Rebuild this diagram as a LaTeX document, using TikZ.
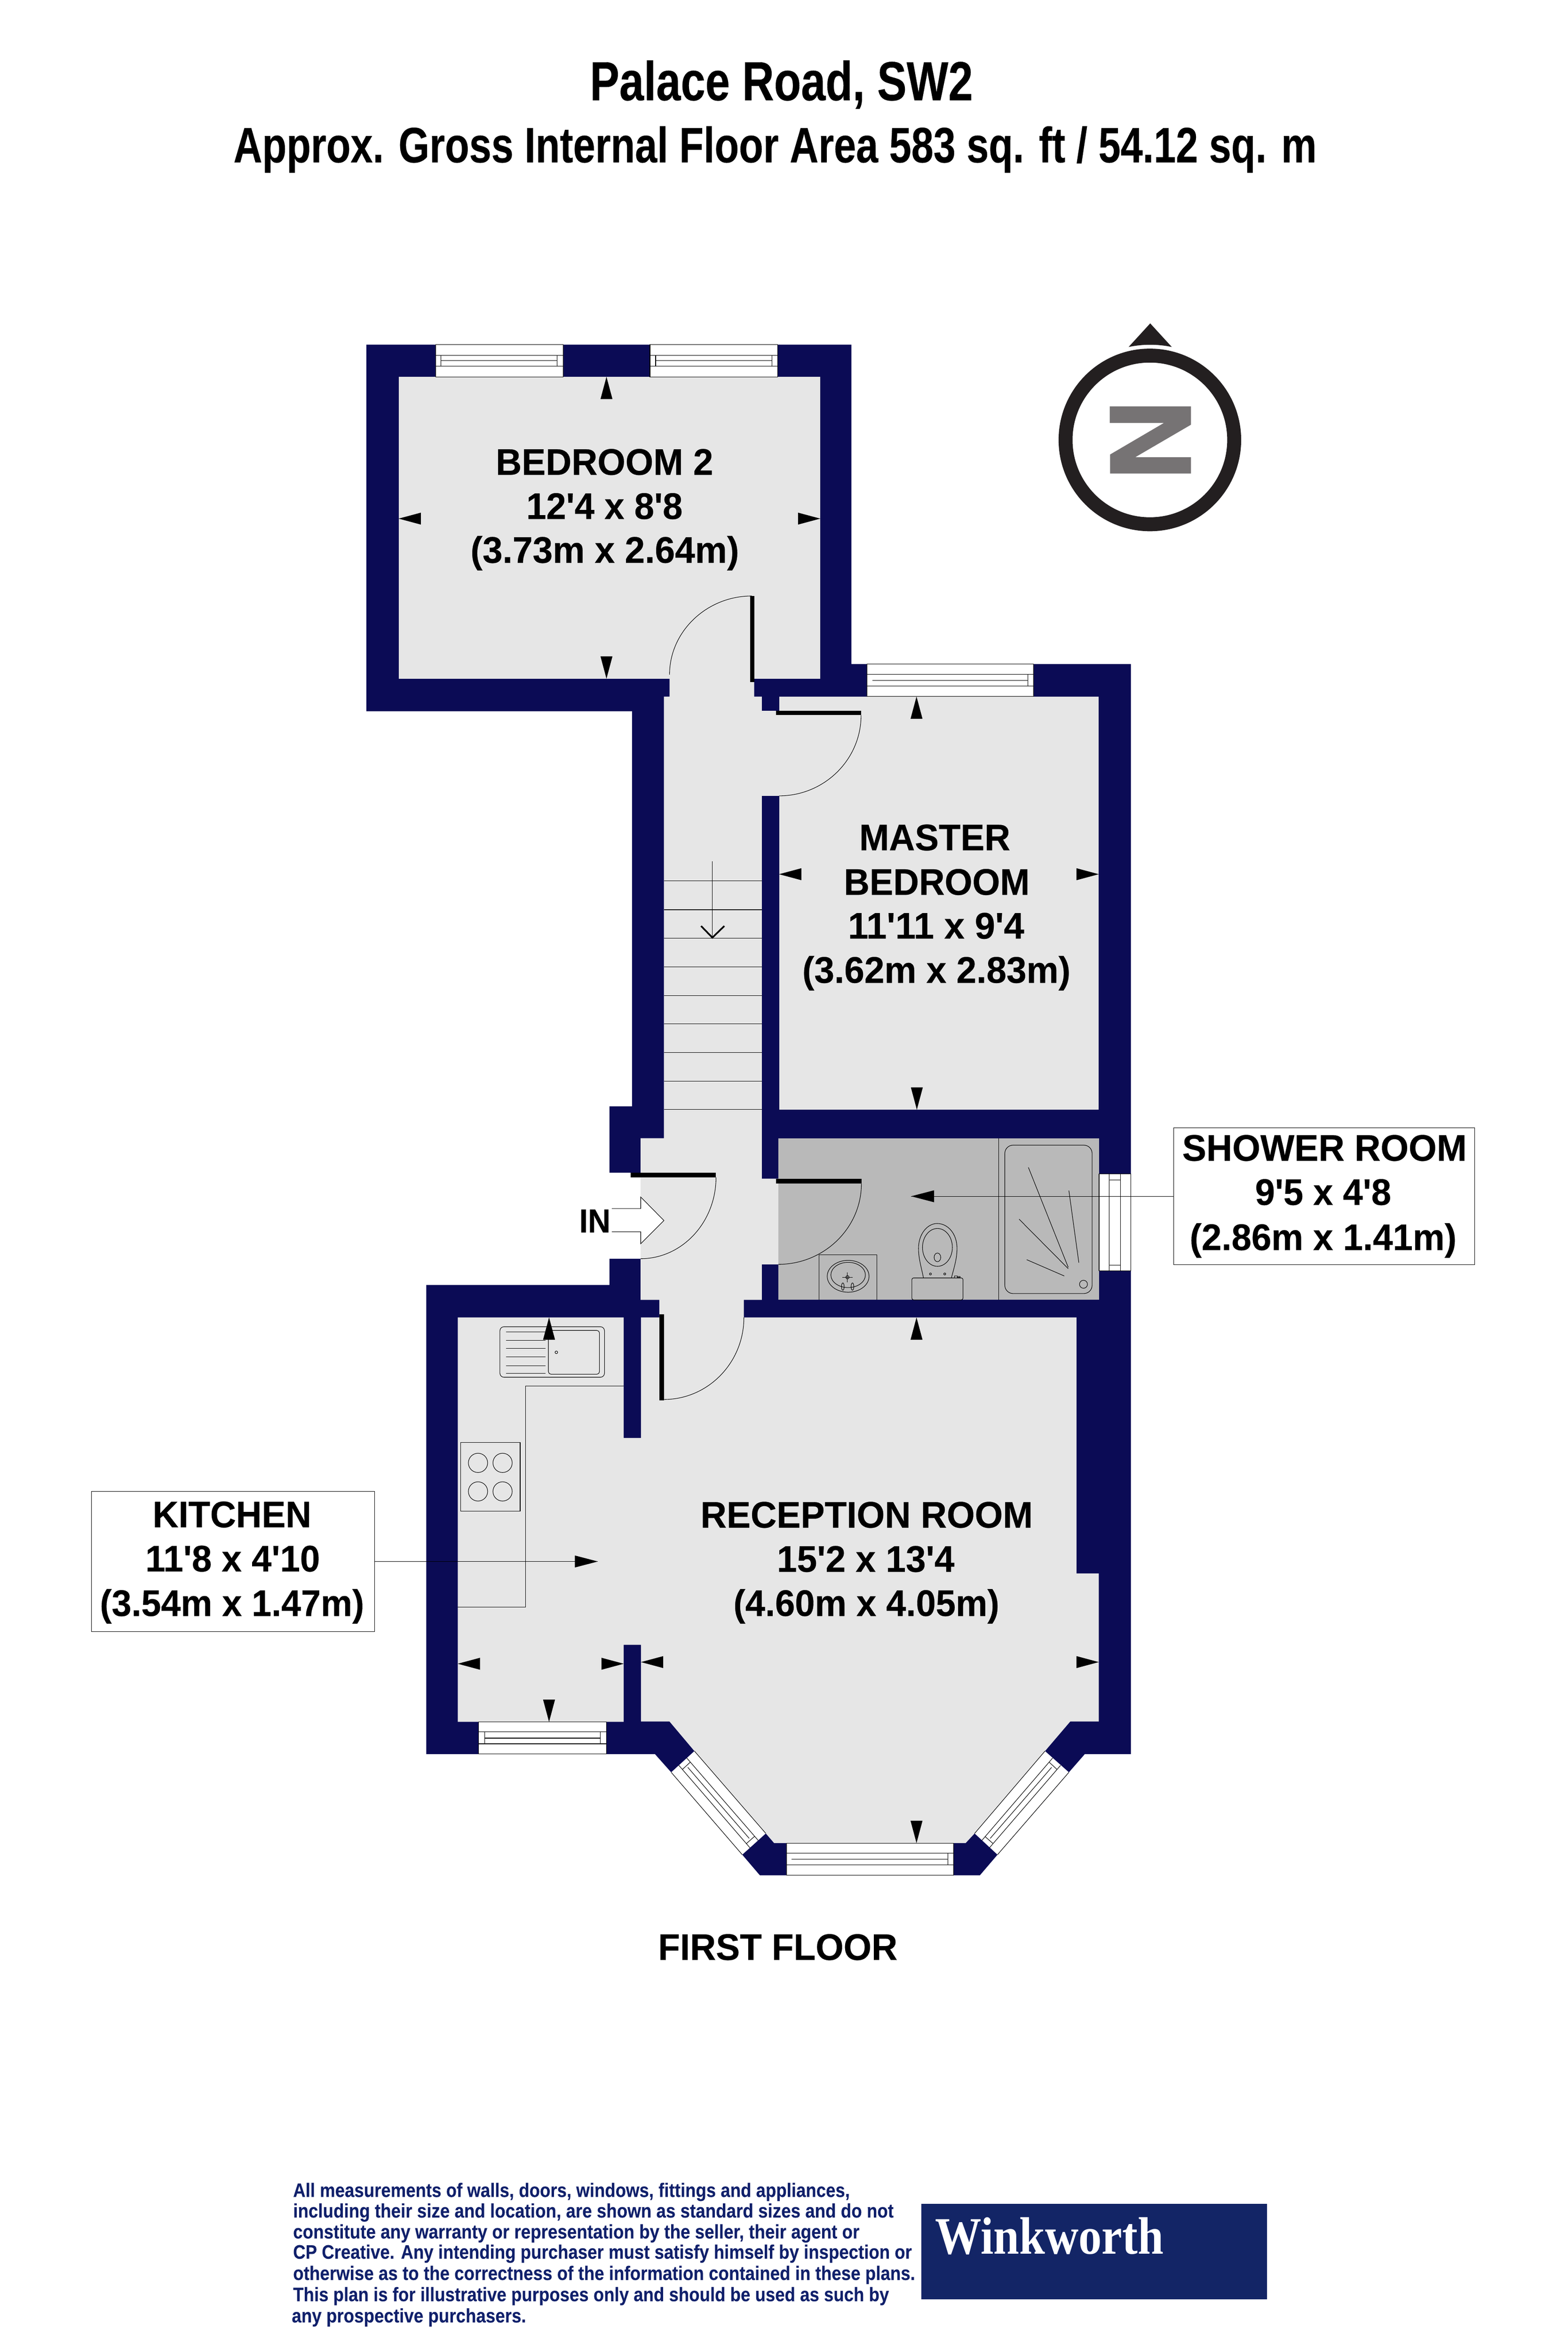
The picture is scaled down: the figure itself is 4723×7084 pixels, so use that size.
\documentclass[tikz,border=0pt]{standalone}
\usepackage{graphicx}
\usepackage{fontspec}
\newfontfamily\ars{Liberation Sans}[BoldFeatures={FakeBold=0.3}]
\newfontfamily\ard{Liberation Sans}[BoldFeatures={FakeBold=0.01}]
\newfontfamily\tms{Liberation Serif}
\definecolor{wallc}{HTML}{0B0B55}
\definecolor{floorc}{HTML}{E6E6E6}
\definecolor{showerc}{HTML}{B9B9B9}
\definecolor{logoc}{HTML}{132566}
\definecolor{discc}{HTML}{10206B}
\definecolor{compc}{HTML}{231F20}
\definecolor{zedc}{HTML}{767374}
\newlength\pxu \setlength\pxu{0.2pt}
\tikzset{
  x=0.2pt,y=-0.2pt,
  thinl/.style={draw=black,line width=0.3pt},
  winbox/.style={fill=white,draw=black,line width=0.3pt},
  doorleaf/.style={fill=black},
  doorarc/.style={draw=black,line width=0.3pt},
  txtbase/.style={inner sep=0pt,outer sep=0pt,anchor=base},
  disc/.style={inner sep=0pt,outer sep=0pt,anchor=base west,text=discc},
  labelbox/.style={draw=black,line width=0.3pt,fill=white,inner sep=0pt,outer sep=0pt},
}
% name, x, baseline, font size pt, width px, text
\newcommand{\plab}[6]{\node[txtbase] (#1) at (#2,#3) {\resizebox{#5\pxu}{\height}{\fontsize{#4}{#4}\ars\bfseries #6}};}
\newcommand{\dlab}[5]{\node[disc] (#1) at (#2,#3) {\resizebox{#4\pxu}{\height}{\fontsize{11.8}{12}\ard\bfseries #5}};}
\newcommand{\tipup}[2]{\fill (#1,#2) -- ++(18,67) -- ++(-36,0) -- cycle;}
\newcommand{\tipdn}[2]{\fill (#1,#2) -- ++(18,-67) -- ++(-36,0) -- cycle;}
\newcommand{\tipl}[2]{\fill (#1,#2) -- ++(67,18) -- ++(0,-36) -- cycle;}
\newcommand{\tipr}[2]{\fill (#1,#2) -- ++(-67,18) -- ++(0,-36) -- cycle;}
\begin{document}
\begin{tikzpicture}
\useasboundingbox (0,0) rectangle (4723,7084);
\fill[white] (0,0) rectangle (4723,7084);

% titles
\plab{title1}{2354}{302}{33.2}{1154}{Palace Road, SW2}
\plab{title2}{2335}{489}{30}{3263}{Approx. Gross Internal Floor Area 583 sq. ft / 54.12 sq. m}

% walls: outer outline
\fill[wallc] (1104,1038) -- (2565,1038) -- (2565,2000) -- (3407,2000) -- (3407,5283) -- (3268,5283)
  -- (3220,5338) -- (3005,5586) -- (2952,5648) -- (2289,5648) -- (2236,5586) -- (2022,5338)
  -- (1973,5283) -- (1284,5283) -- (1284,3870) -- (1836,3870) -- (1836,3791) -- (1930,3791)
  -- (1930,3532) -- (1836,3532) -- (1836,3332) -- (1904,3332) -- (1904,2142) -- (1104,2142) -- cycle;

% floors
\fill[floorc] (1201,1135) rectangle (2471,2044);
\fill[floorc] (2347,2098) rectangle (3310,3342);
\fill[floorc] (2017,2040) -- (2272,2040) -- (2272,2098) -- (2295,2098) -- (2295,2141) -- (2352,2141)
  -- (2352,2397) -- (2295,2397) -- (2295,3550) -- (2345,3550) -- (2345,3808) -- (2295,3808)
  -- (2295,3915) -- (2241,3915) -- (2241,3972) -- (1986,3972) -- (1986,3915) -- (1930,3915)
  -- (1930,3428) -- (2000,3428) -- (2000,2098) -- (2017,2098) -- cycle;
\fill[showerc] (2345,3429) rectangle (3311,3915);
\fill[floorc] (1379,3968) -- (1879,3968) -- (1879,4331) -- (1931,4331) -- (1931,3968) -- (3243,3968)
  -- (3243,4739) -- (3310,4739) -- (3310,5185) -- (3224,5185) -- (3148,5274) -- (2936,5522)
  -- (2909,5551) -- (2332,5551) -- (2307,5522) -- (2092,5274) -- (2017,5185) -- (1931,5185)
  -- (1931,4954) -- (1879,4954) -- (1879,5186) -- (1379,5186) -- cycle;

% stairs
\foreach \yy in {2653,2740,2826,2912,2998,3084,3170,3256,3342}
  \draw[thinl] (2000,\yy) -- (2295,\yy);
\draw[thinl] (2146,2594) -- (2146,2826);
\draw[line width=1pt] (2112,2789) -- (2146,2824) -- (2182,2789);

% windows (straight)
\fill[white] (1313,1038) rectangle (1696,1135);
\fill[white] (1958,1038) rectangle (2343,1135);
\fill[white] (2612,2000) rectangle (3113,2098);
\fill[white] (1442,5186) rectangle (1827,5283);
\fill[white] (2369,5551) rectangle (2873,5648);
\fill[white] (3311,3535) rectangle (3407,3827);
\draw[thinl] (1313,1038) rectangle (1696,1135) (1313,1070) -- (1696,1070) (1313,1103) -- (1696,1103)
  (1328,1086) -- (1678,1086) (1328,1070) -- (1328,1103) (1678,1070) -- (1678,1103);
\draw[thinl] (1958,1038) rectangle (2343,1135) (1958,1070) -- (2343,1070) (1958,1103) -- (2343,1103)
  (1975,1086) -- (2326,1086) (1975,1070) -- (1975,1103) (2326,1070) -- (2326,1103);
\draw[thinl] (2612,2000) rectangle (3113,2098) (2612,2031) -- (3113,2031) (2612,2067) -- (3113,2067)
  (2628,2049) -- (3096,2049) (3096,2031) -- (3096,2067);
\draw[thinl] (1442,5186) rectangle (1827,5283) (1442,5216) -- (1827,5216) (1442,5252) -- (1827,5252)
  (1460,5235) -- (1809,5235) (1460,5216) -- (1460,5252) (1809,5216) -- (1809,5252);
\draw[thinl] (2369,5551) rectangle (2873,5648) (2369,5582) -- (2873,5582) (2369,5617) -- (2873,5617)
  (2385,5600) -- (2855,5600) (2855,5582) -- (2855,5617);
\draw[thinl] (3311,3535) rectangle (3407,3827) (3341,3535) -- (3341,3827) (3375,3535) -- (3375,3827)
  (3341,3554) -- (3375,3554) (3341,3810) -- (3375,3810);

% bay windows
\fill[white] (2092,5274) -- (2307,5522) -- (2236,5586) -- (2022,5338) -- cycle;
\draw[thinl] (2092,5274) -- (2307,5522) (2022,5338) -- (2236,5586)
  (2069,5295) -- (2284,5543) (2045,5317) -- (2259,5565) (2072,5323) -- (2257,5537)
  (2080,5307) -- (2056,5329) (2273,5531) -- (2248,5553);
\fill[white] (3148,5274) -- (2936,5522) -- (3005,5586) -- (3220,5338) -- cycle;
\draw[thinl] (3148,5274) -- (2936,5522) (3220,5338) -- (3005,5586)
  (3171,5295) -- (2958,5543) (3195,5317) -- (2981,5565) (3168,5323) -- (2983,5537)
  (3160,5307) -- (3184,5329) (2967,5531) -- (2992,5553);

% doors
\fill[doorleaf] (2260,1795) rectangle (2272,2054);
\fill[doorleaf] (2337,2141) rectangle (2594,2154);
\fill[doorleaf] (1900,3532) rectangle (2157,3546);
\fill[doorleaf] (2338,3550) rectangle (2595,3565);
\fill[doorleaf] (1986,3958) rectangle (2000,4218);
\draw[doorarc] (2265,1795) .. controls (2129,1795) and (2017,1902) .. (2017,2032);
\draw[doorarc] (2594,2154) .. controls (2594,2288) and (2483,2397) .. (2347,2397);
\draw[doorarc] (2157,3546) .. controls (2157,3681) and (2055,3791) .. (1930,3791);
\draw[doorarc] (2595,3565) .. controls (2595,3699) and (2482,3808) .. (2345,3808);
\draw[doorarc] (2241,3968) .. controls (2241,4104) and (2133,4215) .. (2000,4215);

% entrance arrow
\fill[white] (1843,3640) -- (1930,3640) -- (1930,3605) -- (2000,3676) -- (1930,3746) -- (1930,3710) -- (1843,3710) -- cycle;
\draw[thinl] (1843,3640) -- (1930,3640) -- (1930,3605) -- (2000,3676) -- (1930,3746) -- (1930,3710) -- (1843,3710);
\plab{inlabel}{1792}{3712}{20}{94}{IN}

% kitchen fittings
\draw[thinl,rounded corners=2.4pt] (1506,3996) rectangle (1821,4148);
\draw[thinl,rounded corners=1.6pt] (1652,4007) rectangle (1806,4139);
\foreach \yy in {4012,4037,4061,4087,4113,4136}
  \draw[thinl] (1524,\yy) -- (1643,\yy);
\draw[thinl] (1676,4073) circle[radius=4];
\draw[thinl] (1879,4174) -- (1583,4174) -- (1583,4840) -- (1379,4840);
\draw[thinl] (1388,4345) rectangle (1567,4552);
\draw[thinl] (1440,4406) circle[radius=29] (1514,4406) circle[radius=29]
  (1440,4492) circle[radius=29] (1514,4492) circle[radius=29];

% shower room fittings
\draw[thinl] (3009,3429) -- (3009,3915);
\draw[thinl,rounded corners=5pt] (3027,3449) rectangle (3290,3896);
\draw[thinl] (3264,3868) ellipse[x radius=12,y radius=12];
\draw[thinl] (3098,3516) -- (3218,3817) (3220,3586) -- (3250,3803) (3070,3672) -- (3218,3821) (3093,3794) -- (3206,3843);
\draw[thinl] (2467,3915) -- (2467,3779) -- (2642,3779) -- (2642,3915);
\draw[thinl] (2555,3844) ellipse[x radius=63,y radius=48];
\draw[thinl] (2555,3840) ellipse[x radius=52,y radius=38];
\draw[thinl] (2538,3847) -- (2568,3847) (2553,3832) -- (2553,3862);
\draw[thinl] (2553,3847) circle[radius=5];
\draw[thinl] (2539,3875) ellipse[x radius=4,y radius=11];
\draw[thinl] (2568,3875) ellipse[x radius=4,y radius=11];
\draw[thinl,rounded corners=1pt] (2747,3915) rectangle (2901,3849);
\draw[thinl] (2782,3849) .. controls (2775,3815) and (2767,3790) .. (2767,3760)
  .. controls (2767,3715) and (2795,3685) .. (2823,3685)
  .. controls (2855,3685) and (2883,3715) .. (2883,3760)
  .. controls (2883,3790) and (2875,3815) .. (2866,3849);
\draw[thinl] (2824,3757) ellipse[x radius=45,y radius=57];
\draw[thinl] (2824,3787) ellipse[x radius=10,y radius=13];
\draw[thinl] (2803,3837) circle[radius=3] (2846,3837) circle[radius=3];
\draw[thinl] (2875,3849) rectangle (2884,3843) (2884,3845) rectangle (2892,3848);

% dimension arrows
\tipup{1827}{1135} \tipdn{1827}{2044} \tipl{1201}{1562} \tipr{2471}{1562}
\tipup{2761}{2098} \tipdn{2762}{3342} \tipl{2347}{2633} \tipr{3310}{2633}
\tipup{2761}{3968} \tipdn{2761}{5551} \tipl{1931}{5006} \tipr{3310}{5006}
\tipup{1654}{3968} \tipdn{1654}{5186} \tipl{1379}{5011} \tipr{1879}{5011}

% label boxes and leaders
\node[labelbox,minimum width=854\pxu,minimum height=422\pxu] (kbox) at (702,4703) {};
\node[labelbox,minimum width=907\pxu,minimum height=413\pxu] (sbox) at (3989.5,3603) {};
\coordinate (ktip) at (1801,4703);
\coordinate (stip) at (2745,3603);
\draw[thinl] (kbox.east) -- (ktip);
\draw[thinl] (sbox.west) -- (stip);
\fill (ktip) -- ++(-69,18) -- ++(0,-36) -- cycle;
\fill (stip) -- ++(69,18) -- ++(0,-36) -- cycle;

% room labels
\plab{bed1}{1821}{1430}{22.3}{655}{BEDROOM 2}
\plab{bed2}{1821}{1563}{22.3}{471}{12'4 x 8'8}
\plab{bed3}{1822}{1695}{22.3}{809}{(3.73m x 2.64m)}
\plab{mas1}{2816}{2561}{22.3}{455}{MASTER}
\plab{mas2}{2822}{2695}{22.3}{560}{BEDROOM}
\plab{mas3}{2820}{2827}{22.3}{531}{11'11 x 9'4}
\plab{mas4}{2821}{2960}{22.3}{808}{(3.62m x 2.83m)}
\plab{sho1}{3990}{3496}{22.3}{857}{SHOWER ROOM}
\plab{sho2}{3986}{3629}{22.3}{410}{9'5 x 4'8}
\plab{sho3}{3986}{3765}{22.3}{804}{(2.86m x 1.41m)}
\plab{kit1}{699}{4600}{22.3}{478}{KITCHEN}
\plab{kit2}{701}{4733}{22.3}{526}{11'8 x 4'10}
\plab{kit3}{699}{4867}{22.3}{796}{(3.54m x 1.47m)}
\plab{rec1}{2611}{4601}{22.3}{1001}{RECEPTION ROOM}
\plab{rec2}{2608}{4734}{22.3}{535}{15'2 x 13'4}
\plab{rec3}{2610}{4867}{22.3}{801}{(4.60m x 4.05m)}
\plab{floorlab}{2343}{5903}{22.3}{721}{FIRST FLOOR}

% compass
\draw[compc,line width=8.4pt] (3464,1325) circle[radius=254];
\fill[compc] (3465,974) -- (3530,1045) .. controls (3487,1036) and (3443,1036) .. (3400,1045) -- cycle;
\fill[zedc] (3343,1224) -- (3588,1224) -- (3588,1279) -- (3420,1377) -- (3588,1377) -- (3588,1426)
  -- (3344,1426) -- (3344,1369) -- (3506,1274) -- (3343,1274) -- cycle;

% disclaimer
\dlab{d1}{883}{6617}{1677}{All measurements of walls, doors, windows, fittings and appliances,}
\dlab{d2}{883}{6679}{1809}{including their size and location, are shown as standard sizes and do not}
\dlab{d3}{883}{6742}{1706}{constitute any warranty or representation by the seller, their agent or}
\dlab{d4}{883}{6803}{1864}{CP Creative. Any intending purchaser must satisfy himself by inspection or}
\dlab{d5}{883}{6867}{1874}{otherwise as to the correctness of the information contained in these plans.}
\dlab{d6}{883}{6931}{1795}{This plan is for illustrative purposes only and should be used as such by}
\dlab{d7}{879}{6995}{706}{any prospective purchasers.}

% logo
\fill[logoc] (2775,6638) rectangle (3817,6925);
\node[inner sep=0pt,outer sep=0pt,anchor=base,text=white] (logotext) at (3161,6789)
  {\resizebox{688\pxu}{\height}{\fontsize{31.7}{32}\tms\bfseries Winkworth}};
\end{tikzpicture}
\end{document}
